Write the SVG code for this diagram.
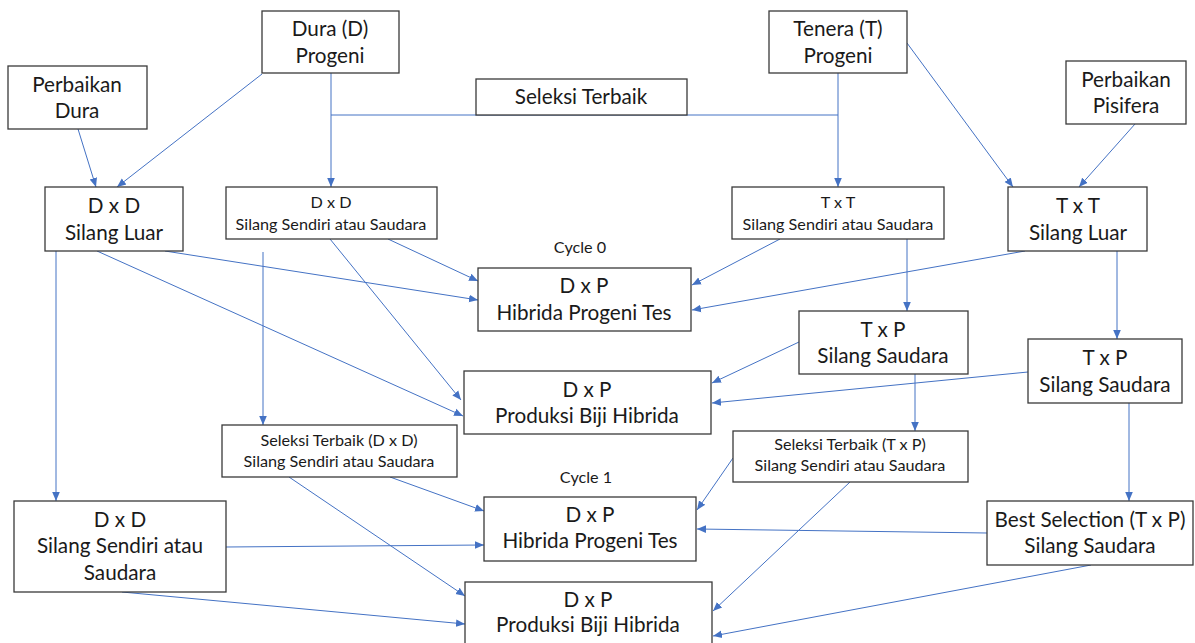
<svg xmlns="http://www.w3.org/2000/svg" width="1195" height="643" viewBox="0 0 1195 643">
<defs>
<marker id="arr" markerUnits="userSpaceOnUse" markerWidth="10" markerHeight="10" viewBox="0 0 10 10" refX="9" refY="5" orient="auto">
<path d="M0,1.2 L9,5 L0,8.8 Z" fill="#4472C4"/>
</marker>
<style>
.box{fill:#fff;stroke:#3a3a3a;stroke-width:1.3}
.t{font-family:Lato,"Liberation Sans",sans-serif;font-size:20.7px;fill:#1a1a1a;text-anchor:middle}
.s{font-family:Lato,"Liberation Sans",sans-serif;font-size:16.2px;fill:#1a1a1a;text-anchor:middle}
.c line{stroke:#4472C4;stroke-width:1;fill:none}
.c line.a{marker-end:url(#arr)}
</style>
</defs>
<rect width="1195" height="643" fill="#fff"/>
<g class="c" id="connectors">
<line class="a" x1="78" y1="129" x2="96" y2="187"/>
<line class="a" x1="262" y1="74" x2="117" y2="187"/>
<line class="a" x1="331" y1="73" x2="331" y2="187"/>
<line x1="331" y1="115" x2="838" y2="115"/>
<line class="a" x1="838" y1="73" x2="838" y2="187"/>
<line class="a" x1="907" y1="43" x2="1013" y2="187"/>
<line class="a" x1="1135" y1="124" x2="1079" y2="187"/>
<line class="a" x1="388" y1="239" x2="478" y2="281"/>
<line class="a" x1="165" y1="251" x2="478" y2="300"/>
<line class="a" x1="97" y1="251" x2="463" y2="416"/>
<line class="a" x1="330" y1="239" x2="461" y2="400"/>
<line class="a" x1="263" y1="252" x2="263" y2="425"/>
<line class="a" x1="56" y1="251" x2="56" y2="501"/>
<line class="a" x1="780" y1="239" x2="692" y2="285"/>
<line class="a" x1="1025" y1="251" x2="692" y2="310"/>
<line class="a" x1="907" y1="239" x2="907" y2="311"/>
<line class="a" x1="1117" y1="251" x2="1117" y2="339"/>
<line class="a" x1="799" y1="342" x2="712" y2="383"/>
<line class="a" x1="1028" y1="372" x2="712" y2="403"/>
<line class="a" x1="915" y1="374" x2="915" y2="431"/>
<line class="a" x1="1129" y1="403" x2="1129" y2="501"/>
<line class="a" x1="390" y1="477" x2="484" y2="511"/>
<line class="a" x1="289" y1="477" x2="465" y2="596"/>
<line class="a" x1="226" y1="547" x2="484" y2="545"/>
<line class="a" x1="122" y1="592" x2="465" y2="624"/>
<line class="a" x1="733" y1="458" x2="697" y2="510"/>
<line class="a" x1="850" y1="482" x2="713" y2="611"/>
<line class="a" x1="987" y1="533" x2="697" y2="529"/>
<line class="a" x1="1091" y1="565" x2="713" y2="636"/>
</g>
<g id="perbaikan-dura"><rect class="box" x="8" y="66" width="139" height="63"/><text class="t" x="77" y="92">Perbaikan</text><text class="t" x="77" y="118">Dura</text></g>
<g id="dura-progeni"><rect class="box" x="262" y="11" width="137" height="62"/><text class="t" x="330" y="36">Dura (D)</text><text class="t" x="330" y="63">Progeni</text></g>
<g id="seleksi-terbaik"><rect class="box" x="476" y="79" width="211" height="36"/><text class="t" x="581" y="104">Seleksi Terbaik</text></g>
<g id="tenera-progeni"><rect class="box" x="769" y="11" width="138" height="62"/><text class="t" x="838" y="36">Tenera (T)</text><text class="t" x="838" y="63">Progeni</text></g>
<g id="perbaikan-pisifera"><rect class="box" x="1066" y="61" width="120" height="63"/><text class="t" x="1126" y="87">Perbaikan</text><text class="t" x="1126" y="113">Pisifera</text></g>
<g id="dxd-luar"><rect class="box" x="45" y="187" width="138" height="64"/><text class="t" x="114" y="213">D x D</text><text class="t" x="114" y="240">Silang Luar</text></g>
<g id="dxd-sendiri"><rect class="box" x="226" y="187" width="211" height="52"/><text class="s" x="331" y="208">D x D</text><text class="s" x="331" y="230">Silang Sendiri atau Saudara</text></g>
<g id="txt-sendiri"><rect class="box" x="732" y="187" width="212" height="52"/><text class="s" x="838" y="208">T x T</text><text class="s" x="838" y="230">Silang Sendiri atau Saudara</text></g>
<g id="txt-luar"><rect class="box" x="1008" y="187" width="139" height="64"/><text class="t" x="1078" y="213">T x T</text><text class="t" x="1078" y="240">Silang Luar</text></g>
<text class="s" id="cycle0" x="580" y="253">Cycle 0</text>
<g id="dxp-hibrida-0"><rect class="box" x="478" y="268" width="213" height="63"/><text class="t" x="584" y="293">D x P</text><text class="t" x="584" y="320">Hibrida Progeni Tes</text></g>
<g id="txp-saudara-1"><rect class="box" x="799" y="311" width="169" height="63"/><text class="t" x="883" y="337">T x P</text><text class="t" x="883" y="363">Silang Saudara</text></g>
<g id="txp-saudara-2"><rect class="box" x="1028" y="339" width="154" height="64"/><text class="t" x="1105" y="365">T x P</text><text class="t" x="1105" y="392">Silang Saudara</text></g>
<g id="dxp-produksi-0"><rect class="box" x="464" y="371" width="247" height="63"/><text class="t" x="587" y="397">D x P</text><text class="t" x="587" y="423">Produksi Biji Hibrida</text></g>
<g id="seleksi-dxd"><rect class="box" x="222" y="425" width="235" height="52"/><text class="s" x="339" y="446">Seleksi Terbaik (D x D)</text><text class="s" x="339" y="467">Silang Sendiri atau Saudara</text></g>
<g id="seleksi-txp"><rect class="box" x="733" y="431" width="235" height="51"/><text class="s" x="850" y="450">Seleksi Terbaik (T x P)</text><text class="s" x="850" y="471">Silang Sendiri atau Saudara</text></g>
<text class="s" id="cycle1" x="586" y="483">Cycle 1</text>
<g id="dxp-hibrida-1"><rect class="box" x="484" y="497" width="212" height="64"/><text class="t" x="590" y="522">D x P</text><text class="t" x="590" y="548">Hibrida Progeni Tes</text></g>
<g id="dxd-sendiri-big"><rect class="box" x="14" y="501" width="212" height="91"/><text class="t" x="120" y="527">D x D</text><text class="t" x="120" y="553">Silang Sendiri atau</text><text class="t" x="120" y="580">Saudara</text></g>
<g id="best-selection"><rect class="box" x="987" y="501" width="206" height="64"/><text class="t" x="1090" y="527">Best Selection (T x P)</text><text class="t" x="1090" y="553">Silang Saudara</text></g>
<g id="dxp-produksi-1"><rect class="box" x="465" y="582" width="247" height="70"/><text class="t" x="588" y="607">D x P</text><text class="t" x="588" y="632">Produksi Biji Hibrida</text></g>
</svg>
